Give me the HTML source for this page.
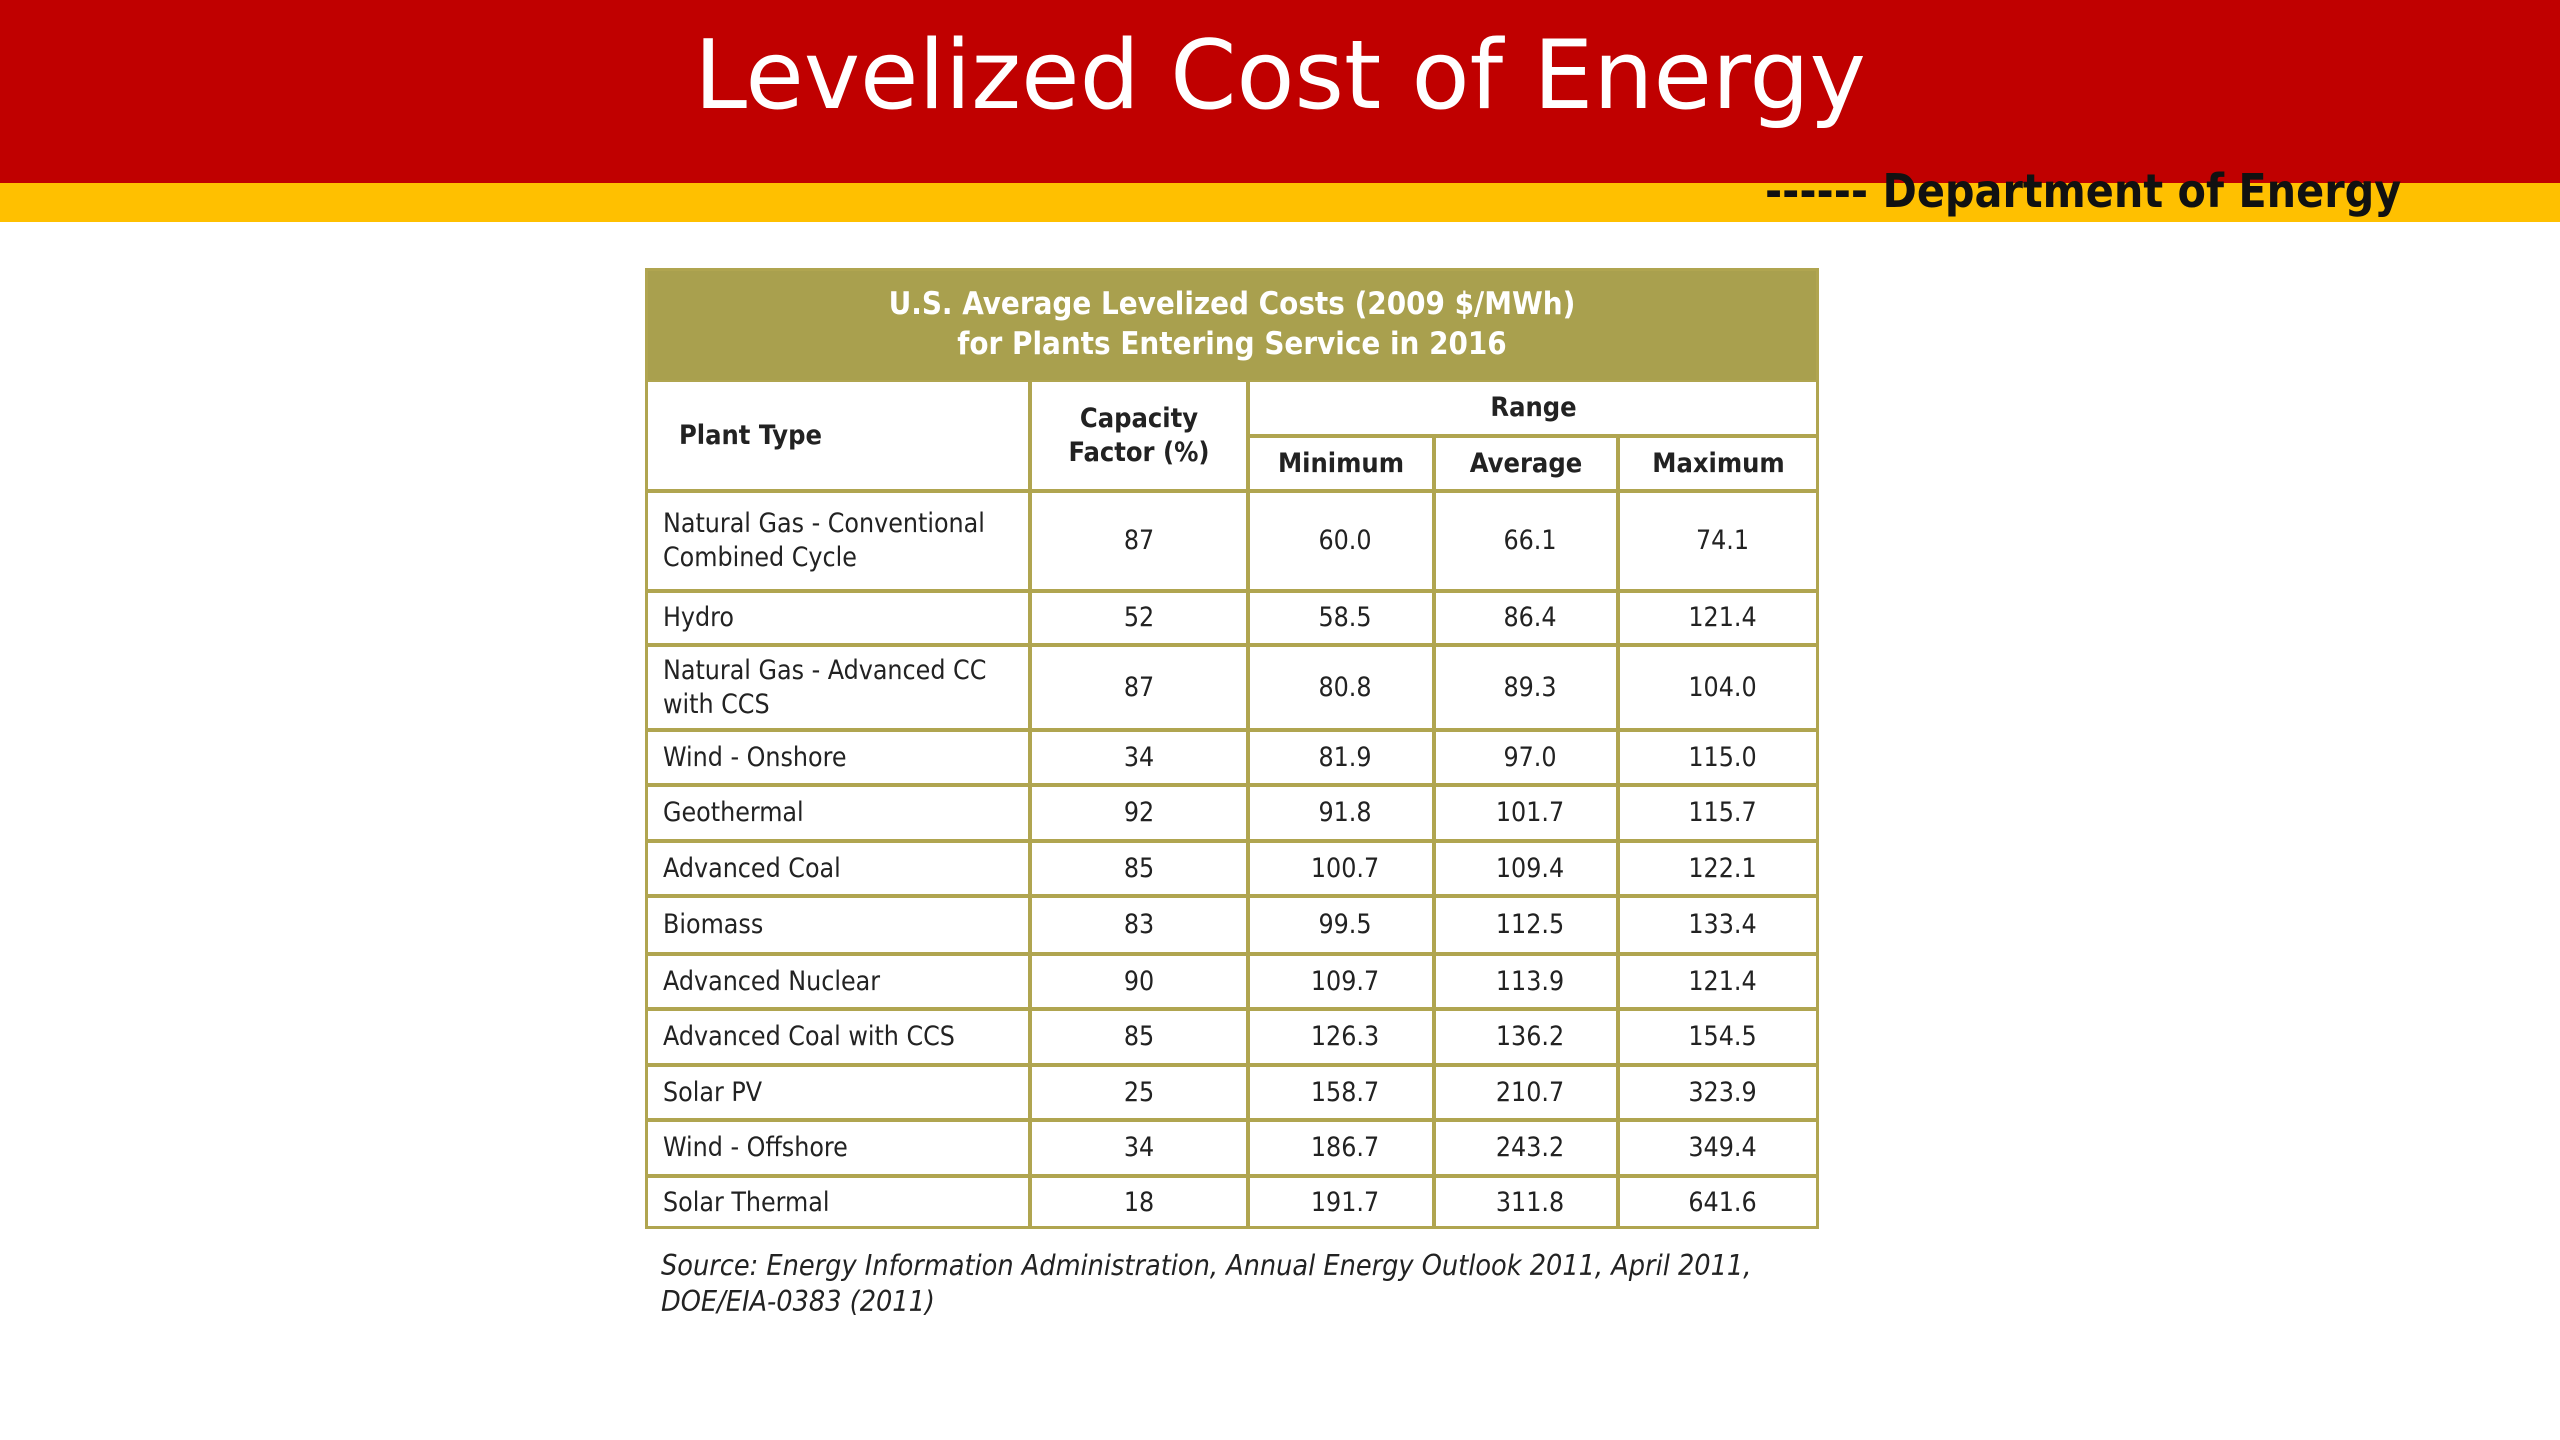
<!DOCTYPE html>
<html><head><meta charset="utf-8">
<style>
*{margin:0;padding:0;box-sizing:border-box}
body{width:2560px;height:1440px;background:#fff;position:relative;overflow:hidden;font-family:"DejaVu Sans Condensed","DejaVu Sans","Liberation Sans",sans-serif;}
#red{position:absolute;left:0;top:0;width:2560px;height:183px;background:#C00000}
#yellow{position:absolute;left:0;top:183px;width:2560px;height:39px;background:#FFC000}
#title{position:absolute;left:0;top:20px;width:2560px;text-align:center;color:#fff;font-size:95px;font-family:"DejaVu Sans","Liberation Sans",sans-serif;line-height:112px}
#dept{position:absolute;left:1765px;top:162px;font-size:46px;font-weight:bold;color:#111;font-family:"DejaVu Sans Condensed","DejaVu Sans",sans-serif;line-height:58px;white-space:nowrap}
.c{position:absolute;display:flex;align-items:center;justify-content:center;color:#222;font-size:26.5px;border:2px solid #B0A550;background:#fff;line-height:34px}
.l{justify-content:flex-start;padding-left:16px}
.h{font-weight:bold;font-size:27px}
#thead{position:absolute;left:645px;top:268px;width:1174px;height:112px;background:#A9A04E;color:#fff;font-weight:bold;font-size:31px;text-align:center;line-height:40px;padding-top:16px}
#frame{position:absolute;left:645px;top:268px;width:1174px;height:961px;border:3px solid #B0A550;pointer-events:none}
#source{position:absolute;left:661px;top:1248px;font-style:italic;font-size:28.5px;color:#222;line-height:36px}
</style></head><body>
<div id="red"></div>
<div id="yellow"></div>
<div id="title">Levelized Cost of Energy</div>
<div id="dept">------ Department of Energy</div>
<div id="thead">U.S. Average Levelized Costs (2009 $/MWh)<br>for Plants Entering Service in 2016</div>
<div id="tbl"></div>
<div id="frame"></div>
<div id="source">Source: Energy Information Administration, Annual Energy Outlook 2011, April 2011,<br>DOE/EIA-0383 (2011)</div>
<script>
const plantTypes=[["Natural Gas - Conventional","Combined Cycle"],["Hydro"],["Natural Gas - Advanced CC","with CCS"],["Wind - Onshore"],["Geothermal"],["Advanced Coal"],["Biomass"],["Advanced Nuclear"],["Advanced Coal with CCS"],["Solar PV"],["Wind - Offshore"],["Solar Thermal"]];
const capacityFactor=[87,52,87,34,92,85,83,90,85,25,34,18];
const minimum=["60.0","58.5","80.8","81.9","91.8","100.7","99.5","109.7","126.3","158.7","186.7","191.7"];
const average=["66.1","86.4","89.3","97.0","101.7","109.4","112.5","113.9","136.2","210.7","243.2","311.8"];
const maximum=["74.1","121.4","104.0","115.0","115.7","122.1","133.4","121.4","154.5","323.9","349.4","641.6"];
const colX=[645,1030,1248,1434,1618,1819];
const rowY=[491,591,645,730,785,841,896,954,1009,1065,1120,1176,1229];
const tbl=document.getElementById('tbl');
function cell(x0,x1,y0,y1,html,cls){
  const d=document.createElement('div');
  d.className='c '+(cls||'');
  d.style.left=x0+'px';d.style.top=y0+'px';d.style.width=(x1-x0)+'px';d.style.height=(y1-y0)+'px';
  d.innerHTML=html;
  tbl.appendChild(d);return d;
}
let e;
e=cell(645,1030,380,491,'Plant Type','h l');


e.style.paddingLeft='32px';
e=cell(1030,1248,380,491,'<div style="text-align:center">Capacity<br>Factor (%)</div>','h');


e=cell(1248,1819,380,436,'Range','h');


const subs=['Minimum','Average','Maximum'];
for(let i=0;i<3;i++){
  e=cell(colX[i+2],colX[i+3],436,491,subs[i],'h');
  
  
}
for(let r=0;r<plantTypes.length;r++){
  const y0=rowY[r],y1=rowY[r+1];
  const vals=[plantTypes[r].join('<br>'),capacityFactor[r],minimum[r],average[r],maximum[r]];
  for(let c=0;c<5;c++){
    e=cell(colX[c],colX[c+1],y0,y1,String(vals[c]),c===0?'l':'');
    if(c>1)e.style.paddingLeft='8px';
    
    
  }
}
</script>
</body></html>
